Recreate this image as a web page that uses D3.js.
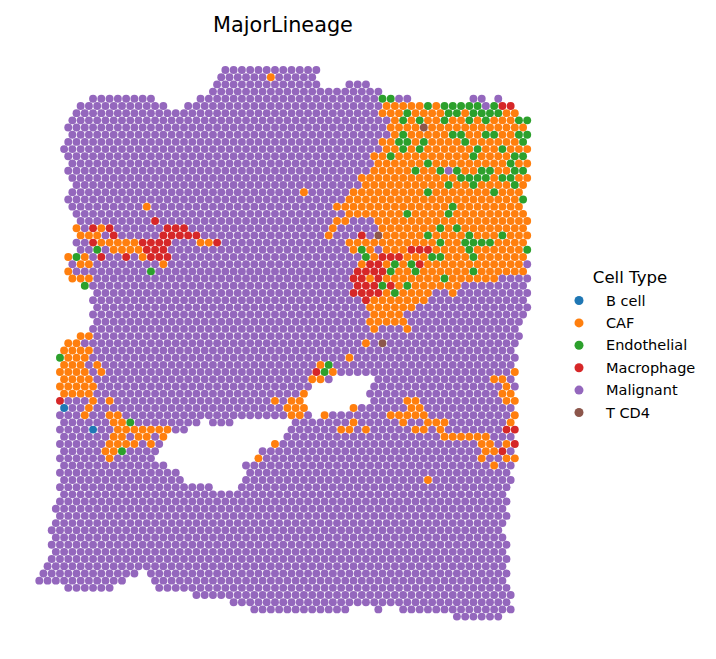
<!DOCTYPE html>
<html>
<head>
	<title>MajorLineage</title>
	<script src="https://d3js.org/d3.v7.min.js" charset="utf-8"></script>
	<style>
		html, body { margin: 0; padding: 0; background: #fff; }
		text { font-family: "DejaVu Sans", sans-serif; fill: #000; }
	</style>
</head>
<body>
<div id="content"></div>

<script type="text/javascript">
	var cellTypes = ['B cell', 'CAF', 'Endothelial', 'Macrophage', 'Malignant', 'T CD4'];
	var typeColors = ['#1f77b4', '#ff7f0e', '#2ca02c', '#d62728', '#9467bd', '#8c564b'];

	// tissue outline as runs of spots: [array_row, first array_col, last array_col]
	var tissueRuns = [
		[0,45,67],[1,44,66],[2,43,67],[2,75,79],[3,42,82],[4,13,27],[4,39,89],[4,105,107],[4,111,111],
		[5,10,30],[5,36,114],[6,9,115],[7,8,118],[8,7,117],[9,8,118],[10,7,117],[11,6,118],[12,7,117],
		[13,8,118],[14,7,117],[15,8,118],[16,9,117],[17,8,116],[18,7,117],[19,8,116],[20,9,117],
		[21,10,118],[22,9,117],[23,10,118],[24,9,117],[25,10,118],[26,7,117],[27,8,118],[28,7,117],
		[29,8,118],[30,11,117],[31,14,118],[32,13,117],[33,14,118],[34,13,117],[35,14,116],[36,13,115],
		[37,10,116],[38,7,115],[39,6,114],[40,5,115],[41,6,114],[42,5,115],[43,6,70],[43,82,114],
		[44,5,65],[44,81,115],[45,6,64],[45,80,114],[46,5,63],[46,81,115],[47,6,64],[47,76,114],
		[48,5,65],[48,69,115],[49,6,38],[49,42,46],[49,62,114],[50,5,35],[50,61,115],[51,6,30],[51,60,114],
		[52,5,29],[52,57,115],[53,6,28],[53,54,114],[54,5,27],[54,53,115],[55,6,30],[55,50,114],
		[56,5,33],[56,51,113],[57,6,34],[57,50,114],[58,5,41],[58,49,113],[59,6,112],[60,5,113],
		[61,4,112],[62,5,113],[63,4,112],[64,3,111],[65,4,112],[66,3,113],[67,4,112],[68,3,113],
		[69,2,112],[70,1,23],[70,27,113],[71,0,20],[71,28,112],[72,7,17],[72,29,113],[73,38,114],
		[74,47,113],[75,52,74],[75,82,82],[75,88,114],[76,101,111]
	];

	// everything in tissue is Malignant unless listed below
	var cafRuns = [
		[1,56,56],[5,84,92],[5,96,96],[6,83,115],[7,86,118],[8,85,117],[9,86,118],[10,83,115],[11,84,118],
		[12,81,113],[13,82,118],[14,81,113],[15,78,118],[16,79,117],[17,64,64],[17,76,116],[18,75,115],
		[19,26,26],[19,72,116],[20,75,117],[21,72,74],[21,82,118],[22,9,9],[22,15,15],[22,71,71],[22,83,117],
		[23,10,14],[23,70,70],[23,84,118],[24,15,23],[24,39,41],[24,75,117],[25,18,24],[25,76,118],
		[26,7,7],[26,11,11],[26,25,25],[26,81,117],[27,10,12],[27,30,30],[27,78,116],[28,7,7],[28,85,117],
		[29,8,12],[29,80,80],[29,84,110],[30,87,101],[31,84,84],[31,88,94],[31,100,100],[32,81,93],[33,80,90],
		[34,81,87],[35,80,88],[36,81,81],[36,89,89],[37,10,12],[38,7,9],[38,79,79],[39,6,12],[40,7,11],[40,75,75],
		[41,6,10],[41,14,14],[41,68,68],[42,5,11],[42,15,15],[42,71,71],[42,115,115],[43,6,12],[43,66,68],[43,110,112],
		[44,5,13],[44,113,113],[45,6,12],[45,64,64],[45,112,114],[46,13,13],[46,17,17],[46,57,57],[46,61,63],
		[46,89,91],[46,113,115],[47,12,12],[47,60,64],[47,76,76],[47,90,92],[48,11,11],[48,17,19],[48,61,63],
		[48,69,69],[48,85,93],[48,115,115],[49,18,20],[49,76,76],[49,88,88],[49,94,98],[49,114,114],[50,19,31],
		[50,73,75],[50,79,79],[50,91,93],[50,97,97],[51,18,20],[51,24,26],[51,30,30],[51,98,108],[52,17,19],
		[52,21,23],[52,27,27],[52,57,57],[52,107,109],[52,113,113],[53,16,18],[53,108,110],[54,17,17],[54,53,53],
		[54,107,107],[54,113,115],[55,110,110],[57,94,94]
	];
	var endothelialSpots = [
		[4,83],[4,85],[5,94],[5,98],[5,100],[5,102],[5,104],[5,106],[5,110],[6,89],[6,99],[6,101],[6,105],[6,107],[6,109],[6,111],
		[7,88],[7,92],[7,98],[7,104],[7,108],[7,116],[7,118],[9,88],[9,100],[9,102],[9,108],[9,110],[9,116],[9,118],
		[10,87],[10,89],[10,93],[10,103],[10,117],[11,88],[11,92],[11,106],[11,112],[12,85],[12,105],[12,115],[12,117],
		[13,94],[13,114],[14,91],[14,97],[14,101],[14,107],[14,109],[14,115],[14,117],[15,102],[15,104],[15,106],[15,108],[15,112],[15,114],
		[16,99],[16,105],[16,115],[17,94],[17,110],[18,117],[19,100],[20,89],[20,99],[22,97],[22,101],[23,94],[23,104],[23,112],
		[24,97],[24,103],[24,105],[24,107],[24,109],[25,14],[25,78],[25,104],[25,118],[26,9],[26,79],[26,95],[26,97],[26,105],
		[27,86],[27,90],[28,27],[28,85],[28,91],[28,105],[29,98],[30,11],[30,83],[30,89],[31,86],[40,5],[41,70],[42,69],[49,22],[53,20]
	];
	var macrophageSpots = [
		[5,112],[5,114],[21,28],[22,13],[22,17],[22,31],[22,33],[22,35],[23,18],[23,30],[23,32],[23,34],[23,36],[23,38],[23,78],
		[24,13],[24,25],[24,27],[24,29],[24,31],[24,43],[25,26],[25,28],[25,30],[25,90],[25,92],[25,94],
		[26,15],[26,21],[26,27],[26,29],[26,31],[26,83],[26,85],[26,87],[27,80],[27,82],[27,92],[28,77],[28,79],[28,81],[28,83],
		[29,76],[29,78],[29,82],[30,77],[30,79],[30,81],[30,85],[31,76],[31,78],[31,80],[31,82],[32,79],[42,67],[46,5],
		[50,113],[50,115],[52,115],[53,112]
	];
	var bCellSpots = [[47,6],[50,13]];
	var tCd4Spots = [[8,93],[23,82],[38,83]];
	var malignantSpots = [[14,99],[25,82]];

	var svg = d3.select('#content')
		.append('svg')
		.attr('width', 716)
		.attr('height', 659)
		.style('display', 'block');

	var x = d3.scaleLinear().domain([0, 118]).range([39.3, 527.2]);
	var y = d3.scaleLinear().domain([0, 76]).range([70, 616.6]);
	var color = d3.scaleOrdinal().domain(cellTypes).range(typeColors);

	// label per spot, later lists win
	var labels = new Map();
	function key(r, c) { return r + '_' + c; }
	function markRuns(runs, type, onlyTissue) {
		runs.forEach(function (run) {
			d3.range(run[1], run[2] + 1, 2).forEach(function (c) {
				if (!onlyTissue || labels.has(key(run[0], c))) labels.set(key(run[0], c), { row: run[0], col: c, type: type });
			});
		});
	}
	function markSpots(spots, type) {
		markRuns(spots.map(function (s) { return [s[0], s[1], s[1]]; }), type, false);
	}
	markRuns(tissueRuns, 'Malignant', false);
	markRuns(cafRuns, 'CAF', true);
	markSpots(endothelialSpots, 'Endothelial');
	markSpots(macrophageSpots, 'Macrophage');
	markSpots(bCellSpots, 'B cell');
	markSpots(tCd4Spots, 'T CD4');
	markSpots(malignantSpots, 'Malignant');

	svg.append('g').selectAll('circle')
		.data(Array.from(labels.values()))
		.enter()
		.append('circle')
		.attr('cx', d => x(d.col))
		.attr('cy', d => y(d.row))
		.attr('r', 3.95)
		.attr('fill', d => color(d.type));

	svg.append('text')
		.attr('x', 283)
		.attr('y', 31.5)
		.attr('text-anchor', 'middle')
		.style('font-size', '20.8px')
		.text('MajorLineage');

	var legendY = d3.scalePoint().domain(cellTypes).range([300.5, 412.5]);

	svg.append('text')
		.attr('x', 630)
		.attr('y', 282.5)
		.attr('text-anchor', 'middle')
		.style('font-size', '16.6px')
		.text('Cell Type');

	var legend = svg.append('g').selectAll('g')
		.data(cellTypes)
		.enter()
		.append('g');

	legend.append('circle')
		.attr('cx', 579)
		.attr('cy', d => legendY(d))
		.attr('r', 4.5)
		.attr('fill', d => color(d));

	legend.append('text')
		.attr('x', 606)
		.attr('y', d => legendY(d) + 5)
		.style('font-size', '14.5px')
		.text(d => d);
</script>
</body>
</html>
